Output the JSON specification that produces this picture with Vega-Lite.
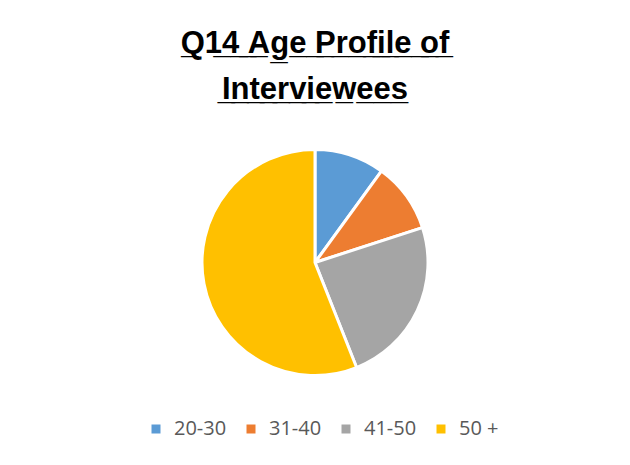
{
  "$schema": "https://vega.github.io/schema/vega-lite/v6.json",
  "width": 630,
  "height": 465,
  "autosize": {"type": "fit", "contains": "padding"},
  "padding": {"top": 28, "bottom": 60, "left": 5, "right": 5},
  "background": "white",
  "title": {
    "text": ["Q̲1̲4̲ ̲A̲g̲e̲ ̲P̲r̲o̲f̲i̲l̲e̲ ̲o̲f̲", "I̲n̲t̲e̲r̲v̲i̲e̲w̲e̲e̲s̲"],
    "font": "Liberation Sans",
    "fontSize": 31,
    "fontWeight": "bold",
    "color": "#000000",
    "lineHeight": 46,
    "anchor": "middle",
    "offset": 14
  },
  "data": {
    "values": [
      {"age": "20-30", "share": 10, "order": 1},
      {"age": "31-40", "share": 10, "order": 2},
      {"age": "41-50", "share": 24, "order": 3},
      {"age": "50 +", "share": 56, "order": 4}
    ]
  },
  "mark": {"type": "arc", "outerRadius": 113, "stroke": "white", "strokeWidth": 3},
  "encoding": {
    "theta": {"field": "share", "type": "quantitative", "stack": true},
    "order": {"field": "order", "type": "quantitative"},
    "color": {
      "field": "age",
      "type": "nominal",
      "sort": ["20-30", "31-40", "41-50", "50 +"],
      "scale": {"domain": ["20-30", "31-40", "41-50", "50 +"], "range": ["#5b9bd5", "#ed7d31", "#a5a5a5", "#ffc000"]},
      "legend": {
        "title": null,
        "orient": "none",
        "legendX": 141,
        "legendY": 299,
        "padding": 0,
        "direction": "horizontal",
        "symbolType": "square",
        "symbolSize": 81,
        "symbolStrokeWidth": 0,
        "labelFont": "Open Sans",
        "labelFontSize": 20,
        "labelColor": "#595959",
        "labelOffset": 8,
        "gridAlign": "all",
        "columnPadding": 14
      }
    }
  },
  "config": {"view": {"stroke": null}}
}
